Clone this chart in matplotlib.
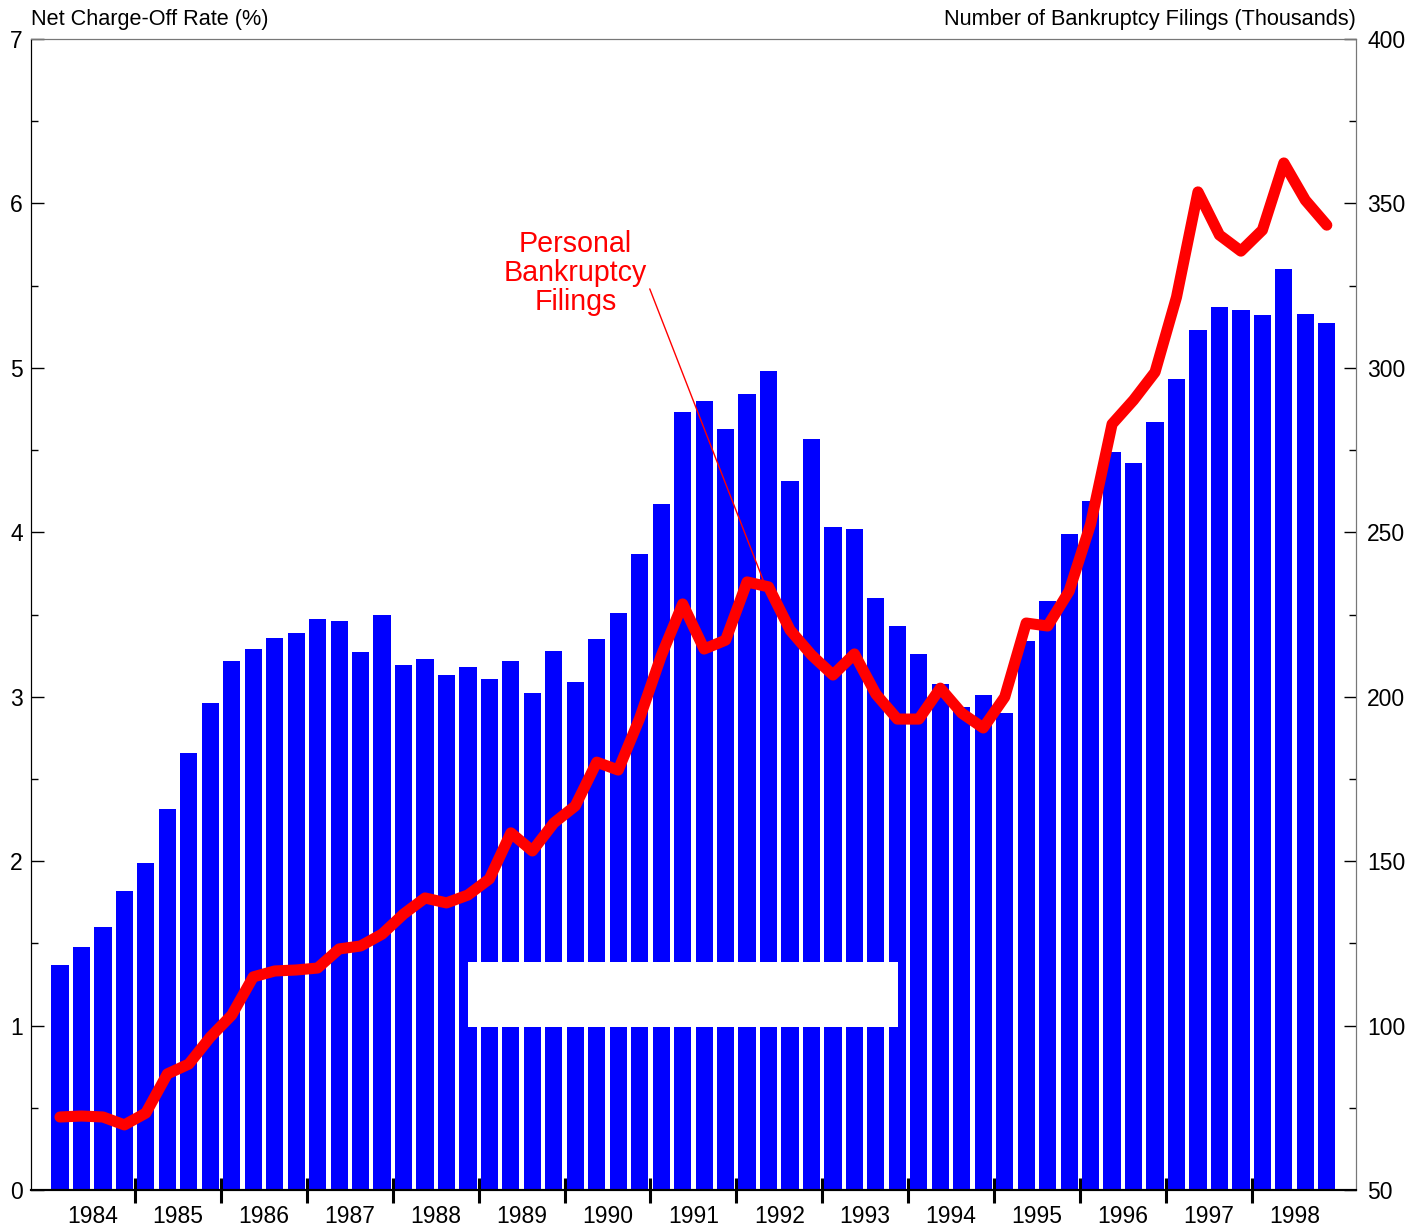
import matplotlib
matplotlib.use("Agg")
import matplotlib.pyplot as plt
import numpy as np
from matplotlib.ticker import MultipleLocator, FixedLocator, NullFormatter

plt.rcParams['font.family'] = ['Liberation Sans', 'DejaVu Sans']

years = list(range(1984, 1999))
quarters = [f"{y}Q{q}" for y in years for q in range(1, 5)]

charge_off_rate = [
    1.37, 1.48, 1.60, 1.82, 1.99, 2.32, 2.66, 2.96,
    3.22, 3.29, 3.36, 3.39, 3.47, 3.46, 3.27, 3.50,
    3.19, 3.23, 3.13, 3.18, 3.11, 3.22, 3.02, 3.28,
    3.09, 3.35, 3.51, 3.87, 4.17, 4.73, 4.80, 4.63,
    4.84, 4.98, 4.31, 4.57, 4.03, 4.02, 3.60, 3.43,
    3.26, 3.08, 2.94, 3.01, 2.90, 3.34, 3.58, 3.99,
    4.19, 4.49, 4.42, 4.67, 4.93, 5.23, 5.37, 5.35,
    5.32, 5.60, 5.33, 5.27,
]

bankruptcy_filings = [
    72.2, 72.5, 72.2, 69.8, 73.4, 85.3, 88.3, 96.5,
    103.2, 114.8, 116.6, 116.9, 117.5, 123.3, 124.2, 127.8,
    133.9, 138.8, 137.3, 139.7, 144.6, 158.6, 153.1, 161.6,
    166.8, 180.1, 177.7, 193.5, 212.4, 228.2, 214.5, 217.2,
    234.9, 233.4, 220.3, 212.7, 206.6, 213.0, 200.8, 193.2,
    193.2, 202.6, 195.0, 190.5, 199.9, 222.4, 221.5, 232.1,
    252.5, 282.9, 290.2, 298.7, 321.5, 353.5, 340.4, 335.5,
    341.9, 362.3, 351.0, 343.4,
]

left_label = "Net Charge-Off Rate (%)"
right_label = "Number of Bankruptcy Filings (Thousands)"
annot_text = "Personal\nBankruptcy\nFilings"

x = np.arange(len(quarters))

fig = plt.figure(figsize=(14.22, 12.30), dpi=100)
ax1 = fig.add_axes([31/1422, 1 - 1190/1230, (1356-31)/1422, (1190-39)/1230])
ax2 = ax1.twinx()

ax1.bar(x, charge_off_rate, width=0.8, color='#0000ff', zorder=2)
ax1.set_ylim(0, 7)
ax1.set_xlim(-1.35, 60.36)
ax1.yaxis.set_major_locator(MultipleLocator(1))
ax1.yaxis.set_minor_locator(MultipleLocator(0.5))
ax1.tick_params(axis='y', which='major', direction='in', length=9, width=1,
                labelsize=16.5, pad=6)
ax1.tick_params(axis='y', which='minor', direction='in', length=5, width=1)

# year ticks
boundaries = [4*i - 0.5 for i in range(1, len(years))]
centers = [4*i + 1.5 for i in range(len(years))]
ax1.xaxis.set_major_locator(FixedLocator(boundaries))
ax1.xaxis.set_major_formatter(NullFormatter())
ax1.xaxis.set_minor_locator(FixedLocator(centers))
ax1.set_xticklabels([str(y) for y in years], minor=True)
ax1.tick_params(axis='x', which='major', direction='inout', length=18, width=2.2,
                color='black')
ax1.tick_params(axis='x', which='minor', length=0, labelsize=16.5, pad=11)

# white box
ax1.add_patch(plt.Rectangle((19.0, 0.99), 20.03, 0.395, facecolor='white',
                            edgecolor='none', zorder=5))

ax2.plot(x, bankruptcy_filings, color='#ff0000', lw=8, solid_capstyle='round',
         solid_joinstyle='round', zorder=3)
ax2.set_ylim(50, 400)
ax2.yaxis.set_major_locator(MultipleLocator(50))
ax2.yaxis.set_minor_locator(MultipleLocator(25))
ax2.tick_params(axis='y', which='major', direction='in', length=9, width=1,
                labelsize=16.5, pad=8)
ax2.tick_params(axis='y', which='minor', direction='in', length=5, width=1)

for ax in (ax1, ax2):
    ax.spines['top'].set_color('#777777')
    ax.spines['right'].set_color('#777777')
    ax.spines['left'].set_color('black')
    ax.spines['bottom'].set_color('black')
    ax.spines['bottom'].set_linewidth(1.5)

ax2.annotate(annot_text, xy=(32.8, 234.6), xytext=(24.0, 328.8),
             ha='center', va='center', color='#ff0000', fontsize=20.6,
             linespacing=1.05,
             arrowprops=dict(arrowstyle='-', color='#ff0000', lw=1,
                             shrinkA=0, shrinkB=0, relpos=(1.0, 0.4)))

fig.text(31/1422, 1 - 20/1230, left_label, ha='left', va='center', fontsize=15.6)
fig.text(1356/1422, 1 - 20/1230, right_label, ha='right', va='center', fontsize=15.7)

fig.savefig("out.png", dpi=100)
